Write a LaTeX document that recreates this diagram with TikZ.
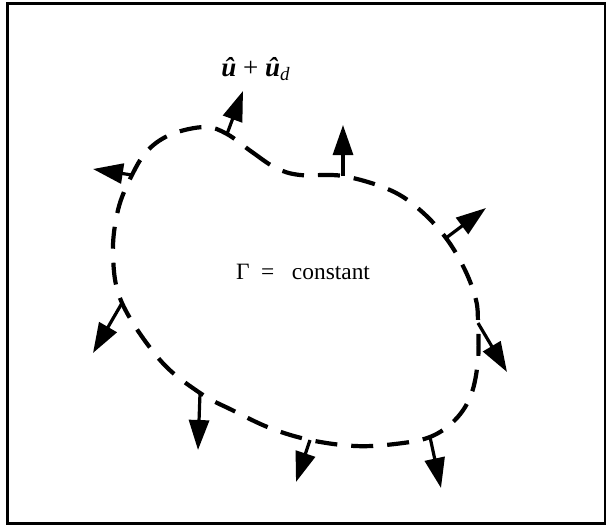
\documentclass[tikz,border=0pt]{standalone}
\usepackage{fontspec}
\setmainfont{Liberation Serif}
\usepackage{tikz}
\usetikzlibrary{arrows.meta}

\begin{document}
\begin{tikzpicture}[
        x=0.5pt, y=-0.5pt,
        every node/.append style={font=\fontsize{11.7}{14}\selectfont}
    ]
    \tikzstyle{front}=[line width=2.1pt,dash pattern=on 11pt off 7pt];
    \tikzstyle{vec}=[line width=1.6pt,-{Triangle[length=15pt,width=10pt]}];
    \useasboundingbox (0,0) rectangle (606,527);
    \draw[line width=1.5pt] (7,3) rectangle (605,523);
    % roots on the front
    \coordinate (r1) at (227,134);
    \coordinate (r2) at (343,176);
    \coordinate (r3) at (446,238);
    \coordinate (r4) at (478,323);
    \coordinate (r5) at (430,437);
    \coordinate (r6) at (310,440);
    \coordinate (r7) at (200,393);
    \coordinate (r8) at (122,303);
    \coordinate (r9) at (132,175);
    % tips
    \coordinate (t1) at (243,91);
    \coordinate (t2) at (343,125);
    \coordinate (t3) at (486,208);
    \coordinate (t4) at (507,372);
    \coordinate (t5) at (441,488);
    \coordinate (t6) at (296,482);
    \coordinate (t7) at (198,450);
    \coordinate (t8) at (93,353);
    \coordinate (t9) at (93,169);
    % front
    \draw[front] plot[smooth cycle,tension=0.6] coordinates {
        (r1) (252,152) (276,168) (300,175) (r2) (390,190) (420,210) (r3)
        (465,270) (476,300) (r4) (478,360) (471,395) (455,420) (r5)
        (395,444) (355,446) (r6) (270,428) (232,410) (r7) (160,360)
        (r8) (113,255) (118,210) (r9) (148,150) (172,134) (205,127)};
    % velocities
    \foreach \i in {1,...,9} \draw[vec] (r\i) -- (t\i);
    \node[font=\fontsize{13.5}{16}\selectfont] (lab) at (256,69) {\bfseries\itshape \^u \mdseries\upshape + \bfseries\itshape \^u\textsubscript{\mdseries d}};
    \node (gam) at (303,272) {Γ \ = \ \ constant};
\end{tikzpicture}
\end{document}
